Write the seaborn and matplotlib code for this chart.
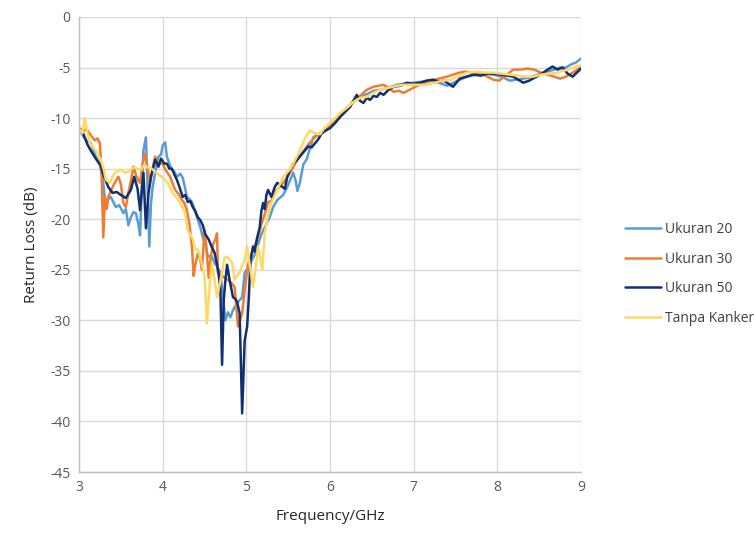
import numpy as np
import pandas as pd
import matplotlib
matplotlib.use("Agg")
import matplotlib.pyplot as plt
import seaborn as sns

series_names = ["Ukuran 20", "Ukuran 30", "Ukuran 50", "Tanpa Kanker"]

freq_u20 = [3.00, 3.05, 3.10, 3.14, 3.20, 3.25, 3.29, 3.32, 3.35, 3.38, 3.41, 3.44, 3.48, 3.53, 3.56, 3.59,
            3.62, 3.65, 3.68, 3.71, 3.73, 3.75, 3.77, 3.80, 3.82, 3.84, 3.86, 3.88, 3.92, 3.95, 3.98, 4.00,
            4.03, 4.05, 4.08, 4.11, 4.14, 4.17, 4.21, 4.24, 4.27, 4.29, 4.32, 4.35, 4.38, 4.41, 4.45, 4.48,
            4.51, 4.54, 4.58, 4.62, 4.66, 4.69, 4.72, 4.75, 4.78, 4.81, 4.84, 4.86, 4.90, 4.95, 4.98, 5.02,
            5.05, 5.10, 5.14, 5.18, 5.22, 5.28, 5.32, 5.37, 5.44, 5.49, 5.53, 5.56, 5.59, 5.61, 5.64, 5.68,
            5.72, 5.76, 5.80, 5.86, 5.92, 5.96, 6.02, 6.08, 6.12, 6.20, 6.28, 6.36, 6.45, 6.52, 6.60, 6.70,
            6.80, 6.90, 7.00, 7.10, 7.20, 7.30, 7.40, 7.50, 7.58, 7.64, 7.75, 7.85, 7.95, 8.05, 8.15, 8.22,
            8.30, 8.38, 8.45, 8.52, 8.60, 8.68, 8.75, 8.82, 8.88, 8.94, 9.00]
rl_u20 = [-11.0, -11.8, -12.3, -12.5, -13.8, -14.6, -16.5, -18.8, -18.0, -17.8, -18.3, -18.8, -18.6, -19.4, -19.0, -20.6,
          -19.8, -19.3, -19.4, -20.5, -21.6, -17.0, -13.2, -11.9, -17.0, -22.7, -18.5, -16.8, -15.0, -13.8, -13.6, -12.7,
          -12.4, -13.8, -14.5, -15.1, -15.3, -15.8, -15.5, -15.9, -17.0, -17.8, -18.0, -18.3, -19.0, -19.8, -20.8, -21.8,
          -22.5, -23.7, -23.6, -24.3, -24.8, -25.3, -27.5, -30.0, -29.2, -29.7, -29.0, -28.7, -28.2, -27.7, -25.3, -24.8,
          -24.3, -23.5, -22.5, -21.5, -20.8, -19.8, -18.8, -18.1, -17.6, -16.8, -16.0, -15.4, -16.2, -17.2, -16.4, -14.6,
          -14.1, -13.0, -11.9, -11.6, -11.4, -11.2, -10.6, -10.1, -9.7, -9.0, -8.4, -7.9, -7.6, -7.3, -7.2, -7.0,
          -6.7, -6.6, -6.5, -6.4, -6.3, -6.5, -6.8, -6.4, -6.1, -5.9, -5.7, -5.6, -5.7, -5.9, -6.3, -6.2,
          -6.1, -6.0, -5.8, -5.6, -5.4, -5.2, -5.0, -5.0, -4.7, -4.5, -4.1]

freq_u30 = [3.00, 3.05, 3.10, 3.15, 3.19, 3.22, 3.25, 3.27, 3.29, 3.31, 3.33, 3.35, 3.37, 3.42, 3.47, 3.50,
            3.53, 3.56, 3.59, 3.62, 3.65, 3.68, 3.71, 3.73, 3.76, 3.79, 3.82, 3.85, 3.88, 3.91, 3.95, 3.98,
            4.00, 4.04, 4.09, 4.12, 4.15, 4.19, 4.23, 4.26, 4.29, 4.32, 4.35, 4.37, 4.39, 4.42, 4.45, 4.47,
            4.50, 4.52, 4.55, 4.57, 4.60, 4.63, 4.65, 4.66, 4.70, 4.74, 4.78, 4.82, 4.86, 4.90, 4.95, 4.98,
            5.02, 5.06, 5.10, 5.14, 5.18, 5.22, 5.26, 5.30, 5.35, 5.40, 5.45, 5.49, 5.55, 5.61, 5.68, 5.75,
            5.82, 5.90, 5.96, 6.02, 6.10, 6.20, 6.28, 6.36, 6.44, 6.52, 6.58, 6.64, 6.70, 6.76, 6.82, 6.88,
            6.95, 7.02, 7.10, 7.20, 7.30, 7.40, 7.47, 7.55, 7.62, 7.70, 7.78, 7.86, 7.95, 8.02, 8.10, 8.19,
            8.28, 8.36, 8.44, 8.52, 8.60, 8.68, 8.75, 8.82, 8.88, 8.94, 9.00]
rl_u30 = [-11.0, -11.2, -11.2, -11.8, -12.2, -12.0, -12.5, -15.5, -21.8, -17.8, -19.0, -17.8, -17.4, -16.5, -15.8, -16.5,
          -18.4, -18.8, -17.4, -16.2, -14.8, -15.6, -16.2, -16.4, -14.5, -13.5, -15.0, -16.4, -15.0, -13.8, -14.6, -14.5,
          -14.5, -15.2, -15.8, -16.5, -17.1, -17.5, -18.1, -18.4, -19.1, -20.5, -22.7, -25.6, -24.5, -23.4, -24.0, -25.0,
          -21.1, -22.5, -25.8, -24.0, -22.5, -22.0, -21.4, -25.3, -25.5, -25.8, -26.0, -26.3, -26.7, -30.6, -29.3, -27.0,
          -24.5, -23.5, -22.6, -21.8, -20.5, -19.5, -18.3, -18.2, -17.2, -16.8, -16.3, -15.8, -15.0, -14.1, -13.3, -12.5,
          -11.9, -11.4, -11.2, -10.5, -9.8, -9.2, -8.3, -7.8, -7.2, -6.9, -6.8, -6.7, -7.0, -7.4, -7.3, -7.5,
          -7.2, -6.9, -6.6, -6.3, -6.1, -5.9, -5.7, -5.5, -5.4, -5.5, -5.6, -5.8, -6.2, -6.3, -5.8, -5.2,
          -5.2, -5.1, -5.2, -5.5, -5.7, -5.9, -6.1, -5.9, -5.6, -5.3, -4.9]

freq_u50 = [3.00, 3.05, 3.10, 3.14, 3.20, 3.26, 3.30, 3.35, 3.40, 3.45, 3.50, 3.56, 3.62, 3.66, 3.70, 3.73,
            3.77, 3.80, 3.83, 3.86, 3.91, 3.95, 3.98, 4.02, 4.05, 4.08, 4.11, 4.14, 4.17, 4.20, 4.24, 4.27,
            4.30, 4.33, 4.36, 4.39, 4.42, 4.45, 4.48, 4.51, 4.55, 4.59, 4.62, 4.65, 4.67, 4.69, 4.71, 4.73,
            4.75, 4.77, 4.80, 4.84, 4.87, 4.89, 4.92, 4.95, 4.98, 5.01, 5.03, 5.05, 5.08, 5.10, 5.13, 5.16,
            5.18, 5.20, 5.22, 5.24, 5.26, 5.30, 5.34, 5.37, 5.43, 5.46, 5.49, 5.53, 5.56, 5.60, 5.64, 5.69,
            5.74, 5.78, 5.82, 5.86, 5.90, 5.95, 6.00, 6.06, 6.12, 6.18, 6.24, 6.28, 6.32, 6.36, 6.40, 6.44,
            6.48, 6.52, 6.56, 6.60, 6.64, 6.70, 6.76, 6.84, 6.92, 7.00, 7.08, 7.15, 7.23, 7.30, 7.36, 7.40,
            7.47, 7.55, 7.63, 7.71, 7.80, 7.88, 7.95, 8.05, 8.12, 8.19, 8.25, 8.31, 8.38, 8.47, 8.55, 8.62,
            8.66, 8.72, 8.78, 8.84, 8.90, 8.95, 9.00]
rl_u50 = [-11.0, -11.5, -12.6, -13.2, -14.0, -14.7, -15.8, -16.8, -17.4, -17.3, -17.6, -17.9, -17.1, -15.8, -17.0, -19.1,
          -15.4, -20.9, -17.5, -15.8, -14.1, -14.8, -14.0, -14.5, -14.5, -15.0, -15.0, -15.6, -16.1, -16.8, -17.8, -17.6,
          -18.3, -18.2, -18.8, -19.2, -19.8, -20.1, -20.6, -21.5, -22.0, -22.8, -23.3, -24.5, -25.5, -27.0, -34.4, -28.0,
          -26.0, -24.5, -26.0, -27.7, -27.9, -28.2, -29.3, -39.2, -32.0, -30.6, -27.7, -24.0, -22.7, -23.2, -21.8, -20.8,
          -19.2, -18.4, -19.0, -17.6, -17.1, -17.8, -16.8, -16.4, -16.8, -17.0, -15.8, -15.0, -14.5, -14.2, -13.8, -13.3,
          -12.8, -12.9, -12.5, -12.1, -11.5, -11.2, -11.0, -10.5, -9.9, -9.4, -8.9, -8.3, -7.7, -8.3, -8.5, -8.0,
          -8.2, -7.8, -7.9, -7.5, -7.7, -7.2, -6.9, -6.8, -6.5, -6.6, -6.5, -6.3, -6.2, -6.4, -6.3, -6.5,
          -6.9, -6.1, -5.9, -5.7, -5.8, -5.6, -5.6, -5.7, -5.8, -5.9, -6.2, -6.5, -6.3, -5.9, -5.5, -5.1,
          -4.9, -5.2, -5.0, -5.6, -5.9, -5.5, -5.1]

freq_tk = [3.00, 3.04, 3.07, 3.10, 3.13, 3.17, 3.20, 3.26, 3.30, 3.32, 3.37, 3.40, 3.43, 3.50, 3.55, 3.59,
           3.63, 3.67, 3.74, 3.78, 3.82, 3.87, 3.91, 3.95, 3.99, 4.06, 4.12, 4.17, 4.21, 4.27, 4.30, 4.33,
           4.36, 4.39, 4.42, 4.45, 4.48, 4.50, 4.53, 4.56, 4.59, 4.62, 4.65, 4.68, 4.71, 4.74, 4.77, 4.80,
           4.83, 4.86, 4.89, 4.92, 4.95, 4.98, 5.01, 5.04, 5.08, 5.11, 5.14, 5.17, 5.19, 5.22, 5.25, 5.28,
           5.32, 5.37, 5.44, 5.52, 5.58, 5.64, 5.70, 5.76, 5.82, 5.88, 5.94, 6.04, 6.12, 6.20, 6.28, 6.36,
           6.44, 6.52, 6.60, 6.70, 6.80, 6.90, 7.00, 7.10, 7.16, 7.25, 7.35, 7.45, 7.55, 7.64, 7.75, 7.85,
           7.95, 8.05, 8.15, 8.25, 8.35, 8.43, 8.52, 8.62, 8.72, 8.80, 8.88, 8.94, 9.00]
rl_tk = [-11.0, -11.5, -10.0, -11.5, -12.5, -12.9, -13.2, -14.1, -15.2, -16.1, -16.4, -15.8, -15.4, -15.1, -15.4, -15.3,
         -15.0, -14.9, -15.1, -14.6, -14.9, -15.0, -15.3, -15.6, -15.8, -16.4, -17.4, -17.9, -18.4, -19.4, -21.1, -21.5,
         -22.0, -23.0, -23.0, -23.8, -24.8, -25.7, -30.3, -26.7, -24.3, -26.0, -27.7, -26.5, -25.3, -23.8, -23.7, -24.0,
         -24.3, -26.0, -25.6, -25.3, -24.6, -24.0, -22.7, -24.5, -26.7, -25.0, -22.7, -24.0, -25.0, -21.4, -20.0, -18.8,
         -18.0, -17.1, -15.8, -15.1, -14.2, -13.2, -12.0, -11.2, -11.5, -11.6, -10.9, -10.2, -9.5, -9.0, -8.4, -8.0,
         -7.9, -7.5, -7.2, -7.0, -6.8, -6.7, -6.7, -6.7, -6.7, -6.5, -6.3, -6.2, -5.8, -5.5, -5.4, -5.5,
         -5.5, -5.6, -5.7, -5.8, -5.9, -5.9, -5.7, -5.6, -5.5, -5.3, -5.1, -4.9, -4.8]

x_ticks = [3, 4, 5, 6, 7, 8, 9]
y_ticks = [0, -5, -10, -15, -20, -25, -30, -35, -40, -45]
x_label = "Frequency/GHz"
y_label = "Return Loss (dB)"

colors = {"Ukuran 20": "#5B9BD5", "Ukuran 30": "#ED7D31", "Ukuran 50": "#13306E", "Tanpa Kanker": "#FFD966"}

df = pd.concat([
    pd.DataFrame({"freq": freq_u20, "rl": rl_u20, "series": "Ukuran 20"}),
    pd.DataFrame({"freq": freq_u30, "rl": rl_u30, "series": "Ukuran 30"}),
    pd.DataFrame({"freq": freq_u50, "rl": rl_u50, "series": "Ukuran 50"}),
    pd.DataFrame({"freq": freq_tk, "rl": rl_tk, "series": "Tanpa Kanker"}),
], ignore_index=True)

sns.set_theme(style="white")
plt.rcParams['font.family'] = ['Open Sans', 'DejaVu Sans']

fig = plt.figure(figsize=(7.54, 5.33), dpi=100)
ax = fig.add_axes([79/754, 61/533, (581-79)/754, (472-17)/533])

sns.lineplot(data=df, x="freq", y="rl", hue="series", hue_order=series_names,
             palette=colors, sort=False, estimator=None, linewidth=1.8, ax=ax, legend=True)

ax.set_xlim(3, 9)
ax.set_ylim(-45, 0)
ax.set_xticks(x_ticks)
ax.set_yticks(y_ticks)
ax.set_xticklabels([str(t) for t in x_ticks], color="#595959", fontsize=10)
ax.set_yticklabels([str(t) for t in y_ticks], color="#595959", fontsize=10)
ax.tick_params(axis="both", length=0, pad=6)
ax.grid(True, color="#D9D9D9", linewidth=1.0)
ax.set_axisbelow(True)
for s in ["top", "right"]:
    ax.spines[s].set_visible(False)
for s in ["left", "bottom"]:
    ax.spines[s].set_color("#BFBFBF")
    ax.spines[s].set_linewidth(1.0)
ax.set_xlabel(x_label, fontsize=11, color="#262626", labelpad=10)
ax.set_ylabel(y_label, fontsize=11, color="#262626", labelpad=8)

handles, labels = ax.get_legend_handles_labels()
ax.get_legend().remove()
leg = fig.legend(handles, labels, loc="center left", bbox_to_anchor=(612/754, 1 - 274/533),
                 frameon=False, fontsize=10, handlelength=2.6, handletextpad=0.3, labelspacing=1.05)
for t in leg.get_texts():
    t.set_color("#404040")

fig.savefig("out.png", dpi=100)
